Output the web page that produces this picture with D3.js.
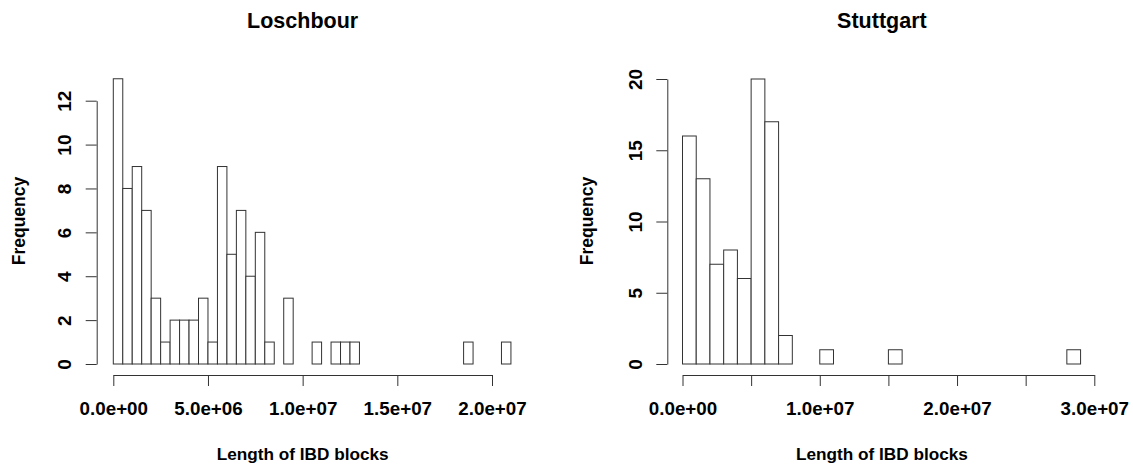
<!DOCTYPE html>
<html>
<head>
<meta charset="utf-8">
<script src="https://cdn.jsdelivr.net/npm/d3@7"></script>
<style>
  body { margin: 0; background: #fff; }
  svg text { font-family: "Liberation Sans", Arial, sans-serif; font-weight: bold; fill: #000; }
</style>
</head>
<body>
<script>
// histogram counts (R hist, 92 blocks each)
var loschbourCounts = [13, 8, 9, 7, 3, 1, 2, 2, 2, 3, 1, 9, 5, 7, 4, 6, 1, 0, 3, 0, 0,
    1, 0, 1, 1, 1, 0, 0, 0, 0, 0, 0, 0, 0, 0, 0, 0, 1, 0, 0, 0, 1]
var loschbourBin = 5e5
var loschbourXTicks = [0, 5e6, 1e7, 1.5e7, 2e7]
var loschbourYTicks = [0, 2, 4, 6, 8, 10, 12]

var stuttgartCounts = [16, 13, 7, 8, 6, 20, 17, 2, 0, 0, 1, 0, 0, 0, 0, 1, 0, 0, 0, 0,
    0, 0, 0, 0, 0, 0, 0, 0, 1]
var stuttgartBin = 1e6
var stuttgartXTicks = [0, 5e6, 1e7, 1.5e7, 2e7, 2.5e7, 3e7]
var stuttgartXLabels = [0, 1e7, 2e7, 3e7]
var stuttgartYTicks = [0, 5, 10, 15, 20]

var width = 1133
var height = 465

var svg = d3.select('body').append('svg')
    .attr('width', width)
    .attr('height', height)

function sci(v) {
    var s = d3.format('.1e')(v)
    return s.replace(/e([+-])(\d)$/, 'e$10$2')
}

function histogram(opts) {
    var g = svg.append('g')

    var x = d3.scaleLinear().domain(opts.xDomain).range(opts.xRange)
    var y = d3.scaleLinear().domain(opts.yDomain).range([364, opts.yTop])

    var bins = opts.counts.map(function(c, i) {
        return { x0: i * opts.bin, x1: (i + 1) * opts.bin, n: c }
    })

    g.append('g')
        .selectAll('rect')
        .data(bins)
        .enter().append('rect')
        .attr('x', function(d) { return x(d.x0) })
        .attr('width', function(d) { return x(d.x1) - x(d.x0) })
        .attr('y', function(d) { return y(d.n) })
        .attr('height', function(d) { return y(0) - y(d.n) })
        .style('fill', 'white')
        .style('stroke', '#333')
        .style('stroke-width', 1)

    // x axis
    var xAxis = g.append('g')
        .attr('transform', 'translate(0,375)')
        .call(d3.axisBottom(x)
            .tickValues(opts.xTicks)
            .tickSize(11)
            .tickSizeOuter(0)
            .tickFormat(function(d) {
                return opts.xLabels.indexOf(d) >= 0 ? sci(d) : ''
            }))
    xAxis.selectAll('text')
        .attr('y', 40)
        .attr('dy', null)
        .style('font-size', '18.8px')

    // y axis, labels turned like R's default las=0
    var yAxis = g.append('g')
        .attr('transform', 'translate(' + opts.yAxisX + ',0)')
        .call(d3.axisLeft(y)
            .tickValues(opts.yTicks)
            .tickSize(11)
            .tickSizeOuter(0))
    yAxis.selectAll('text')
        .attr('transform', 'rotate(-90)')
        .attr('x', 0)
        .attr('y', -25.5)
        .attr('dy', null)
        .attr('text-anchor', 'middle')
        .style('font-size', '19px')

    g.selectAll('.domain, .tick line')
        .style('stroke', '#333')

    var cx = (opts.xRange[0] + opts.xRange[1]) / 2 + opts.titleShift

    g.append('text')
        .attr('x', cx)
        .attr('y', 28)
        .attr('text-anchor', 'middle')
        .style('font-size', '21.5px')
        .text(opts.title)

    g.append('text')
        .attr('x', cx)
        .attr('y', 460)
        .attr('text-anchor', 'middle')
        .style('font-size', '17.2px')
        .text('Length of IBD blocks')

    g.append('text')
        .attr('transform', 'translate(' + opts.freqX + ',221) rotate(-90)')
        .attr('text-anchor', 'middle')
        .style('font-size', '17.5px')
        .text('Frequency')
}

histogram({
    title: 'Loschbour',
    counts: loschbourCounts,
    bin: loschbourBin,
    xDomain: [0, 2e7],
    xRange: [113.3, 492],
    xTicks: loschbourXTicks,
    xLabels: loschbourXTicks,
    yDomain: [0, 12],
    yTop: 100.7,
    yTicks: loschbourYTicks,
    yAxisX: 96.7,
    freqX: 24.5,
    titleShift: 0
})

histogram({
    title: 'Stuttgart',
    counts: stuttgartCounts,
    bin: stuttgartBin,
    xDomain: [0, 3e7],
    xRange: [682.5, 1094.3],
    xTicks: stuttgartXTicks,
    xLabels: stuttgartXLabels,
    yDomain: [0, 20],
    yTop: 79,
    yTicks: stuttgartYTicks,
    yAxisX: 667.3,
    freqX: 592.5,
    titleShift: -6.5
})
</script>
</body>
</html>
